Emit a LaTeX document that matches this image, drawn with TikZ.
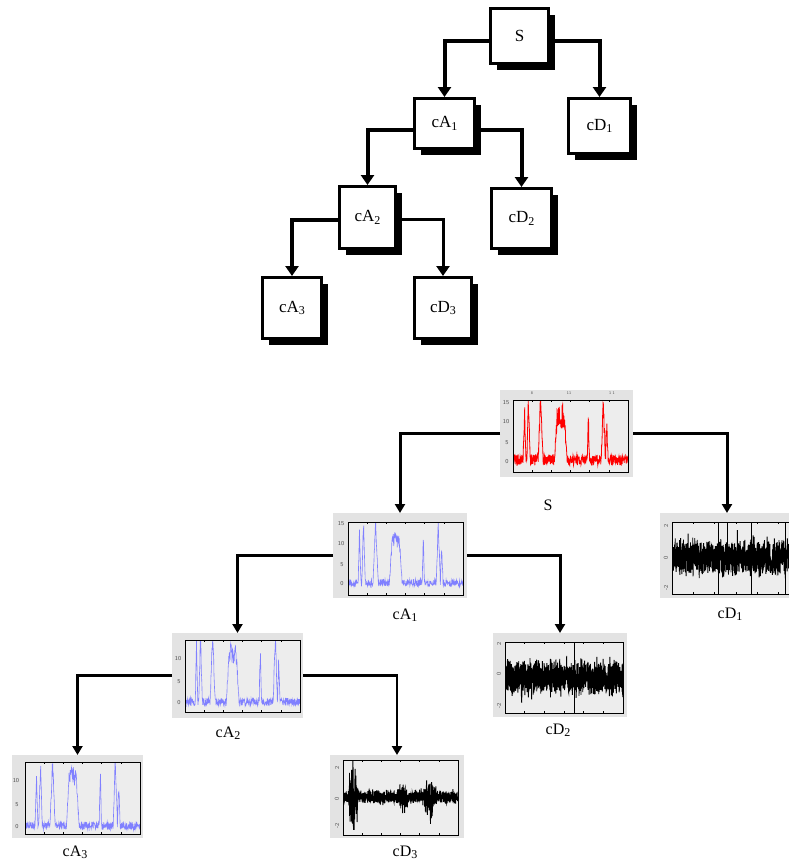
\documentclass[tikz,border=0pt]{standalone}
\usepackage{fontspec}
\setmainfont{Liberation Serif}
\usetikzlibrary{arrows.meta,shadows}
\newcommand\lsub[1]{\raisebox{-0.3ex}{\fontsize{12}{12}\selectfont #1}}
\newcommand\axesbox[4]{%
  \fill[plotbg] (#1,#2) rectangle (#3,#4);
  \foreach \k in {1,...,5}{%
    \draw[line width=0.4pt] ({#1+\k*(#3-#1)/6},#4) -- ++(0,-2);
    \draw[line width=0.4pt] ({#1+\k*(#3-#1)/6},#2) -- ++(0,2);}%
}
\newcommand\frameaxes[4]{\draw[line width=1pt] (#1,#2) rectangle (#3,#4);}
\newcommand\sigcurve[9]{%
  \begin{scope}
    \clip (#1,#2) rectangle (#3,#4);
    \draw[#8] plot[domain=0:1,samples=#9,variable=\t]
      ({#1+\t*(#3-#1)},{#4-((#7)-(#5))*(#4-#2)/((#6)-(#5))});
  \end{scope}}
\begin{document}
\begin{tikzpicture}[x=1pt,y=-1pt,
  declare function={
    bump(\x,\c,\w)=max(0,1-abs(\x-\c)/\w);
    trap(\x,\c,\h,\s)=max(0,min(1,(\h+\s-abs(\x-\c))/\s));
    sig(\x)=12*bump(\x,0.10,0.012)+15*bump(\x,0.135,0.015)+15.5*bump(\x,0.24,0.022)
      +11*trap(\x,0.415,0.03,0.025)+12*bump(\x,0.655,0.01)+15.5*bump(\x,0.785,0.018)
      +9*bump(\x,0.815,0.012);
  },
  tbox/.style={draw=black,line width=3pt,fill=white,inner sep=0pt,
    font=\fontsize{17}{17}\selectfont,
    drop shadow={shadow xshift=6pt,shadow yshift=-6pt,fill=black,opacity=1}},
  tconn/.style={draw=black,line width=4pt,-{Triangle[width=13pt,length=10pt]}},
  panel/.style={fill=gray!22,draw=none,inner sep=0pt,outer sep=0pt},
  bconn/.style={draw=black,line width=3pt,-{Triangle[width=10pt,length=9pt]}},
  plabel/.style={font=\fontsize{16}{16}\selectfont},
  plotbg/.style={fill=gray!14},
  tick/.style={font=\fontsize{6}{6}\selectfont\sffamily,text=gray!60!black,inner sep=0pt},
]
\useasboundingbox (0,0) rectangle (788,863);
\pgfmathsetseed{7}

% ---------- top tree ----------
\node[tbox,minimum width=58pt,minimum height=55pt] (S) at (519.5,36) {S};
\node[tbox,minimum width=60pt,minimum height=50pt] (A1) at (444.5,123.5) {cA\lsub{1}};
\node[tbox,minimum width=62pt,minimum height=55pt] (D1) at (599.5,126) {cD\lsub{1}};
\node[tbox,minimum width=56pt,minimum height=62pt] (A2) at (367.5,217.5) {cA\lsub{2}};
\node[tbox,minimum width=60pt,minimum height=60pt] (D2) at (521.5,218.5) {cD\lsub{2}};
\node[tbox,minimum width=59pt,minimum height=61pt] (A3) at (292,308) {cA\lsub{3}};
\node[tbox,minimum width=57pt,minimum height=61pt] (D3) at (443,308) {cD\lsub{3}};

\draw[tconn] ([yshift=-5pt]S.west) -| (A1.north);
\draw[tconn] ([yshift=-5pt]S.east) -| (D1.north);
\draw[tconn] ([yshift=-6pt]A1.west) -| (A2.north);
\draw[tconn] ([yshift=-6pt]A1.east) -| (D2.north);
\draw[tconn] ([yshift=-2pt]A2.west) -| (A3.north);
\draw[tconn,line width=3pt] ([yshift=-2pt]A2.east) -| (D3.north);

% ---------- bottom panels ----------
\node[panel,minimum width=133pt,minimum height=87pt] (pS) at (566.5,433.5) {};
\node[panel,minimum width=134pt,minimum height=85pt] (pA1) at (400,555.5) {};
\node[panel,minimum width=134pt,minimum height=85pt] (pD1) at (727,555.5) {};
\node[panel,minimum width=131pt,minimum height=85pt] (pA2) at (237.5,675.5) {};
\node[panel,minimum width=134pt,minimum height=84pt] (pD2) at (560,675) {};
\node[panel,minimum width=131pt,minimum height=83pt] (pA3) at (77.5,796.5) {};
\node[panel,minimum width=134pt,minimum height=83pt] (pD3) at (397,796.5) {};

% S
\axesbox{513}{400}{628}{472}
\sigcurve{513}{400}{628}{472}{-2.5}{15.8}{sig(\t)*(1+0.22*rand)+1.4*rand+0.6}{red,line width=0.8pt}{450}
\frameaxes{513}{400}{628}{472}
\node[tick] (tS15) at (506,403) {15};
\node[tick] (tS10) at (506,422) {10};
\node[tick] (tS5) at (507,443) {5};
\node[tick] (tS0) at (507,462) {0};
\node[tick,font=\fontsize{4}{4}\selectfont\sffamily] (tSa) at (532,393) {8};
\node[tick,font=\fontsize{4}{4}\selectfont\sffamily] (tSb) at (569,393) {11};
\node[tick,font=\fontsize{4}{4}\selectfont\sffamily] (tSc) at (612,393) {1 1};

% cA1
\axesbox{348}{522}{463}{595}
\sigcurve{348}{522}{463}{595}{-2.75}{15.5}{sig(\t)*(1+0.15*rand)+0.9*rand+0.3}{blue!50,line width=0.6pt}{380}
\frameaxes{348}{522}{463}{595}
\node[tick] (tA15) at (341,524) {15};
\node[tick] (tA10) at (341,544) {10};
\node[tick] (tA5) at (342,565) {5};
\node[tick] (tA0) at (342,584) {0};

% cD1
\axesbox{672}{522}{800}{594}
\sigcurve{672}{522}{800}{594}{-2.6}{2.6}{1.1*rand+1.3*rand*rnd*rnd}{black,line width=0.9pt}{950}
\draw[line width=0.7pt] (718,522) -- (718,594) (751,522) -- (751,594) (785,522) -- (785,594) (727,522) -- (727,545);
\frameaxes{672}{522}{800}{594}
\node[tick,rotate=90] (tD1a) at (666,526) {2};
\node[tick,rotate=90] (tD1b) at (666,558) {0};
\node[tick,rotate=90] (tD1c) at (666,588) {-2};

% cA2
\axesbox{185}{640}{300}{712}
\sigcurve{185}{640}{300}{712}{-2}{14.3}{sig(\t)*(1+0.15*rand)+0.9*rand+0.3}{blue!50,line width=0.6pt}{380}
\frameaxes{185}{640}{300}{712}
\node[tick] (tB10) at (178,659) {10};
\node[tick] (tB5) at (179,682) {5};
\node[tick] (tB0) at (179,703) {0};

% cD2
\axesbox{505}{642}{623}{713}
\sigcurve{505}{642}{623}{713}{-2.4}{2.4}{1.0*rand+1.2*rand*rnd*rnd}{black,line width=0.9pt}{900}
\draw[line width=0.7pt] (574,642) -- (574,713);
\frameaxes{505}{642}{623}{713}
\node[tick,rotate=90] (tD2a) at (499,644) {2};
\node[tick,rotate=90] (tD2b) at (499,674) {0};
\node[tick,rotate=90] (tD2c) at (499,706) {-2};

% cA3
\axesbox{25}{762}{140}{834}
\sigcurve{25}{762}{140}{834}{-1.5}{14.3}{sig(\t)*(1+0.15*rand)+0.9*rand+0.3}{blue!50,line width=0.6pt}{380}
\frameaxes{25}{762}{140}{834}
\node[tick] (tC10) at (16,781) {10};
\node[tick] (tC5) at (17,805) {5};
\node[tick] (tC0) at (17,827) {0};

% cD3
\axesbox{343}{760}{458}{835}
\sigcurve{343}{760}{458}{835}{-2.4}{2.4}{(0.45+2.4*bump(\t,0.09,0.05)+1.0*bump(\t,0.76,0.07)+0.6*bump(\t,0.52,0.05))*(0.8*rand+0.6*rand*rnd)}{black,line width=0.9pt}{700}
\frameaxes{343}{760}{458}{835}
\node[tick,rotate=90] (tD3a) at (337,768) {2};
\node[tick,rotate=90] (tD3b) at (337,799) {0};
\node[tick,rotate=90] (tD3c) at (337,826) {-2};

% labels
\node[plabel] (lS) at (548,505) {S};
\node[plabel] (lA1) at (405,615) {cA\lsub{1}};
\node[plabel] (lD1) at (730,614) {cD\lsub{1}};
\node[plabel] (lA2) at (228,733) {cA\lsub{2}};
\node[plabel] (lD2) at (558,730) {cD\lsub{2}};
\node[plabel] (lA3) at (75,852) {cA\lsub{3}};
\node[plabel] (lD3) at (405,852) {cD\lsub{3}};

% bottom connectors
\draw[bconn] (pS.west) -| (pA1.north);
\draw[bconn] (pS.east) -| (pD1.north);
\draw[bconn,line width=2.2pt] (pA1.west) -| (pA2.north);
\draw[bconn] (pA1.east) -| (pD2.north);
\draw[bconn] (pA2.west) -| (pA3.north);
\draw[bconn,line width=2.5pt] (pA2.east) -| (pD3.north);
\end{tikzpicture}
\end{document}
